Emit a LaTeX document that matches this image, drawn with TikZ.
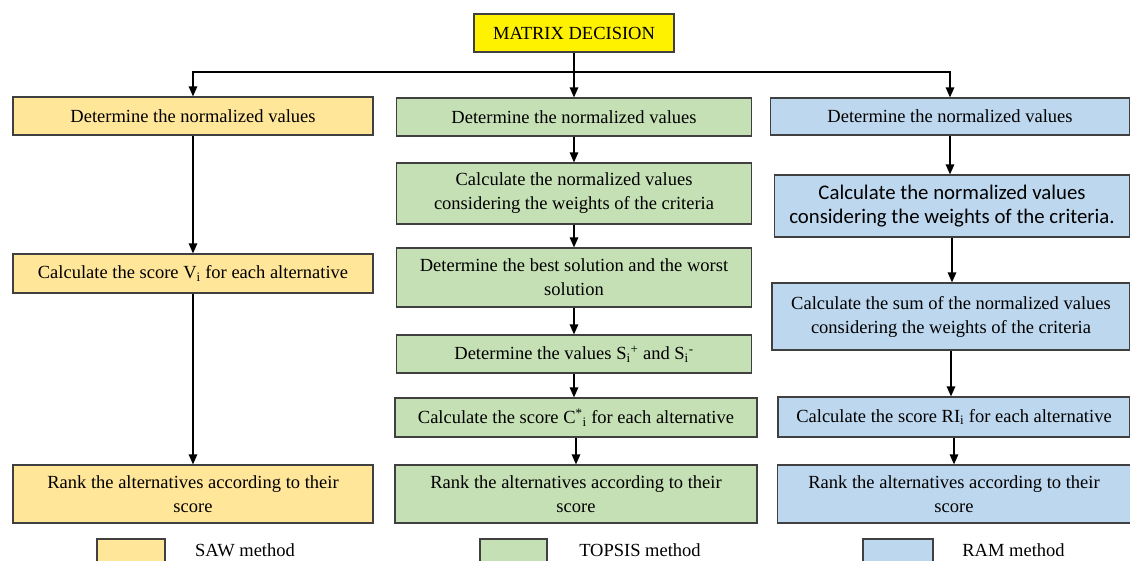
\documentclass[tikz,border=0pt]{standalone}
\usepackage{fontspec}
\setmainfont{Liberation Serif}
\newfontfamily\calibrifont{Carlito}
\usetikzlibrary{arrows.meta}
\definecolor{sawcol}{HTML}{FFE699}
\definecolor{topcol}{HTML}{C5E0B4}
\definecolor{ramcol}{HTML}{BDD7EE}
\definecolor{edgecol}{HTML}{404040}

\begin{document}
\begin{tikzpicture}[
                x=1pt,y=-1pt,
                line width=1.2pt,
                >={Triangle[length=10pt,width=8.5pt]},
                box/.style={draw=edgecol,align=center,text=black,inner sep=0pt,
                            font=\fontsize{18.5}{24}\selectfont},
                saw/.style={box,fill=sawcol,minimum width=360pt},
                topsis/.style={box,fill=topcol,minimum width=355pt},
                ram/.style={box,fill=ramcol},
                link/.style={->,draw=black,line width=1.3pt}] %

\path[fill=white,use as bounding box] (0,0) rectangle (1130,561);

                    % top
                    \node[box,fill=yellow,minimum width=200pt,minimum height=38pt] (MD) at (574,33) {MATRIX DECISION};
                    \coordinate (SPLIT) at (574,72);

                    % SAW
                    \node[saw,minimum height=38pt] (SAW1) at (193,116) {Determine the normalized values};
                    \node[saw,minimum height=39pt] (SAW2) at (193,273.5) {Calculate the score V\textsubscript{i} for each alternative};
                    \node[saw,minimum height=58pt] (SAW3) at (193,494) {Rank the alternatives according to their\\score};

                    % TOPSIS
                    \node[topsis,minimum height=38pt] (TOP1) at (574,117) {Determine the normalized values};
                    \node[topsis,minimum height=61pt] (TOP2) at (574,193.5) {Calculate the normalized values\\considering the weights of the criteria};
                    \node[topsis,minimum height=59pt] (TOP3) at (574,277.5) {Determine the best solution and the worst\\solution};
                    \node[topsis,minimum height=38pt] (TOP4) at (574,354) {Determine the values S\textsubscript{i}\textsuperscript{+} and S\textsubscript{i}\textsuperscript{-}};
                    \node[topsis,minimum width=362pt,minimum height=39pt] (TOP5) at (576,417.5) {Calculate the score C\textsuperscript{*}\textsubscript{i} for each alternative};
                    \node[topsis,minimum width=362pt,minimum height=58pt] (TOP6) at (576,494) {Rank the alternatives according to their\\score};

                    % RAM
                    \node[ram,minimum width=359pt,minimum height=37pt] (RAM1) at (950,116.5) {Determine the normalized values};
                    \node[ram,minimum width=355pt,minimum height=62pt,font=\calibrifont\fontsize{20.8}{24}\selectfont] (RAM2) at (952,206) {Calculate the normalized values\\considering the weights of the criteria.};
                    \node[ram,minimum width=358pt,minimum height=67pt] (RAM3) at (951,316.5) {Calculate the sum of the normalized values\\considering the weights of the criteria};
                    \node[ram,minimum width=352pt,minimum height=40pt] (RAM4) at (954,417) {Calculate the score RI\textsubscript{i} for each alternative};
                    \node[ram,minimum width=353pt,minimum height=58pt] (RAM5) at (954,494) {Rank the alternatives according to their\\score};

                    % split
                    \draw[line width=1.3pt] (MD.south) -- (SPLIT);
                    \draw[link] (SPLIT) -| (SAW1.north);
                    \draw[link] (SPLIT) -- (TOP1.north);
                    \draw[link] (SPLIT) -| (RAM1.north);

                    % SAW
                    \draw[link] (SAW1) to (SAW2);
                    \draw[link] (SAW2) to (SAW3);

                    % TOPSIS
                    \draw[link] (TOP1) to (TOP2);
                    \draw[link] (TOP2) to (TOP3);
                    \draw[link] (TOP3) to (TOP4);
                    \draw[link] (TOP4.south) to (TOP4.south |- TOP5.north);
                    \draw[link] (TOP5) to (TOP6);

                    % RAM
                    \draw[link] (RAM1.south) to (RAM1.south |- RAM2.north);
                    \draw[link] (RAM2.south) to (RAM2.south |- RAM3.north);
                    \draw[link] (RAM3.south) to (RAM3.south |- RAM4.north);
                    \draw[link] (RAM4) to (RAM5);

                    % legend
                    \node[saw,minimum width=68pt,minimum height=24pt] (SAWKEY) at (131,551) {};
                    \node[font=\fontsize{18.5}{24}\selectfont] (SAWTXT) at (245,550) {SAW method};
                    \node[topsis,minimum width=67pt,minimum height=24pt] (TOPKEY) at (513.5,551) {};
                    \node[font=\fontsize{18.5}{24}\selectfont] (TOPTXT) at (640,550) {TOPSIS method};
                    \node[ram,minimum width=70pt,minimum height=24pt] (RAMKEY) at (898,551) {};
                    \node[font=\fontsize{18.5}{24}\selectfont] (RAMTXT) at (1013.5,550) {RAM method};

\end{tikzpicture}
\end{document}
